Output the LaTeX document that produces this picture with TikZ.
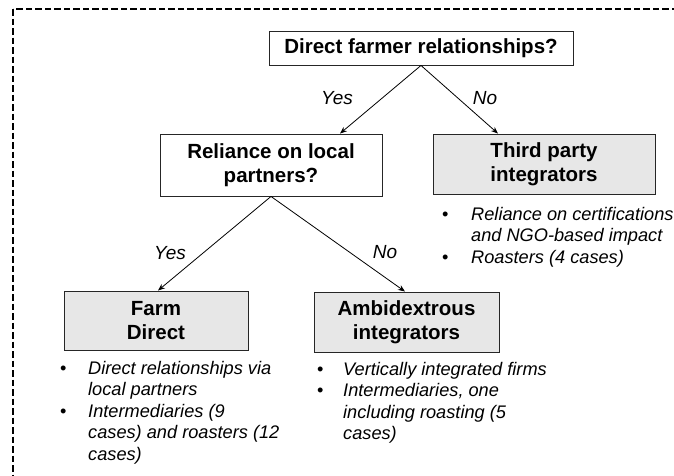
\documentclass[tikz,border=0pt]{standalone}
\usepackage{fontspec}
\setmainfont{Liberation Sans}
\usepackage{array}
\usetikzlibrary{arrows.meta}
\definecolor{boxgray}{RGB}{231,231,231}
\begin{document}
\begin{tikzpicture}[x=1pt,y=-1pt,
 qbox/.style={draw=black!85, line width=0.9pt, fill=white, font=\fontsize{20.5}{24.5}\selectfont\bfseries, align=center, inner sep=0pt},
 cbox/.style={qbox, fill=boxgray},
 conn/.style={line width=0.8pt, -{Stealth[length=7pt,width=5.5pt]}},
 lbl/.style={font=\fontsize{19}{22}\selectfont\itshape, inner sep=0pt},
 blist/.style={anchor=base west, inner sep=0pt, font=\fontsize{18.2}{21.5}\selectfont}
]
\useasboundingbox (0,0) rectangle (674,475);
\clip (0,0) rectangle (674,475);
\draw[line width=1.7pt, dash pattern=on 6.5pt off 3pt] (13,9) rectangle (700,500);

\node[qbox, minimum width=304pt, minimum height=34pt] (top) at (421,48) {Direct farmer relationships?};
\node[qbox, minimum width=222pt, minimum height=62pt] (rel) at (271,165) {Reliance on local\\partners?};
\node[cbox, minimum width=222pt, minimum height=60pt] (tp) at (544,164) {Third party\\integrators};
\node[cbox, minimum width=184pt, minimum height=59pt] (farm) at (156,320.5) {Farm\\Direct};
\node[cbox, minimum width=185pt, minimum height=60pt] (ambi) at (406.5,322) {Ambidextrous\\integrators};

\draw[conn] (top.south) -- ([xshift=69pt]rel.north);
\draw[conn] (top.south) -- ([xshift=-46pt]tp.north);
\draw[conn] (rel.south) -- ([xshift=2pt]farm.north);
\draw[conn] (rel.south) -- ([xshift=-1.5pt]ambi.north);

\node[lbl] (y1) at (337,98) {Yes};
\node[lbl] (n1) at (485,98) {No};
\node[lbl] (y2) at (170,253) {Yes};
\node[lbl] (n2) at (385,252) {No};

\node[blist] (ltp) at (442,220) {\begin{tabular}[t]{@{}p{29pt}@{}>{\itshape}l@{}}
•&Reliance on certifications\\
 &and NGO-based impact\\
•&Roasters (4 cases)
\end{tabular}};
\node[blist] (lfarm) at (60,374) {\begin{tabular}[t]{@{}p{28pt}@{}>{\itshape}l@{}}
•&Direct relationships via\\
 &local partners\\
•&Intermediaries (9\\
 &cases) and roasters (12\\
 &cases)
\end{tabular}};
\node[blist] (lambi) at (317,375) {\begin{tabular}[t]{@{}p{26pt}@{}>{\itshape}l@{}}
•&Vertically integrated firms\\
•&Intermediaries, one\\
 &including roasting (5\\
 &cases)
\end{tabular}};
\end{tikzpicture}
\end{document}
